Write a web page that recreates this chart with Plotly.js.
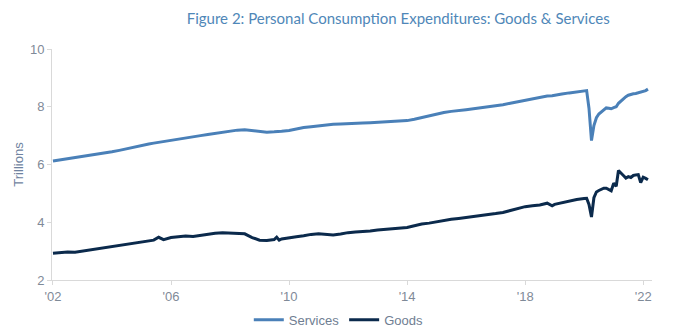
<!DOCTYPE html>
<html>
<head>
<meta charset="utf-8">
<script src="https://cdn.plot.ly/plotly-3.0.1.min.js"></script>
<style>html,body{margin:0;padding:0;background:#fff;}#chart{width:690px;height:336px;}</style>
</head>
<body>
<div id="chart"></div>
<script>
const dates = [
  "2002-01-01","2002-04-01","2002-07-01","2002-10-01",
  "2003-01-01","2003-04-01","2003-07-01","2003-10-01",
  "2004-01-01","2004-04-01","2004-07-01","2004-10-01",
  "2005-01-01","2005-04-01","2005-06-01","2005-08-01","2005-10-01",
  "2006-01-01","2006-04-01","2006-07-01","2006-10-01",
  "2007-01-01","2007-04-01","2007-07-01","2007-10-01",
  "2008-01-01","2008-04-01","2008-07-01","2008-10-01",
  "2009-01-01","2009-04-01","2009-07-01","2009-08-01","2009-09-01","2009-10-01",
  "2010-01-01","2010-04-01","2010-07-01","2010-10-01",
  "2011-01-01","2011-04-01","2011-07-01","2011-10-01",
  "2012-01-01","2012-04-01","2012-07-01","2012-10-01",
  "2013-01-01","2013-04-01","2013-07-01","2013-10-01",
  "2014-01-01","2014-04-01","2014-07-01","2014-10-01",
  "2015-01-01","2015-04-01","2015-07-01","2015-10-01",
  "2016-01-01","2016-04-01","2016-07-01","2016-10-01",
  "2017-01-01","2017-04-01","2017-07-01","2017-10-01",
  "2018-01-01","2018-04-01","2018-07-01","2018-10-01","2018-12-01",
  "2019-01-01","2019-04-01","2019-07-01","2019-10-01",
  "2020-01-01","2020-02-01","2020-03-01","2020-04-01","2020-05-01","2020-06-01",
  "2020-07-01","2020-08-01","2020-09-01","2020-10-01","2020-11-01","2020-12-01",
  "2021-01-01","2021-02-01","2021-03-01","2021-04-01","2021-05-01","2021-06-01",
  "2021-07-01","2021-08-01","2021-09-01","2021-10-01","2021-11-01","2021-12-01",
  "2022-01-01","2022-02-01","2022-03-01"
];

const services = [
  6.12,6.16,6.19,6.22,
  6.26,6.30,6.35,6.39,
  6.44,6.49,6.55,6.60,
  6.66,6.71,6.74,6.77,6.80,
  6.84,6.88,6.92,6.96,
  7.00,7.04,7.08,7.12,
  7.16,7.19,7.20,7.18,
  7.15,7.12,7.13,7.13,7.14,7.15,
  7.18,7.24,7.28,7.31,
  7.34,7.37,7.39,7.40,
  7.42,7.43,7.44,7.45,
  7.46,7.47,7.48,7.50,
  7.52,7.57,7.63,7.70,
  7.76,7.80,7.84,7.88,
  7.90,7.93,7.96,8.00,
  8.03,8.07,8.12,8.17,
  8.22,8.28,8.33,8.37,8.38,
  8.40,8.44,8.48,8.52,
  8.55,8.56,7.95,6.83,7.35,7.62,
  7.75,7.82,7.90,7.96,7.95,7.93,
  7.97,8.00,8.12,8.20,8.28,8.35,
  8.40,8.43,8.45,8.46,8.48,8.50,
  8.52,8.56,8.61
];

const goods = [
  2.93,2.95,2.97,2.96,
  3.00,3.03,3.08,3.12,
  3.17,3.21,3.24,3.29,
  3.32,3.36,3.38,3.48,3.40,
  3.47,3.50,3.52,3.51,
  3.55,3.60,3.62,3.64,
  3.63,3.62,3.60,3.47,
  3.38,3.37,3.40,3.48,3.38,3.42,
  3.47,3.50,3.53,3.58,
  3.60,3.59,3.56,3.59,
  3.64,3.66,3.67,3.70,
  3.73,3.75,3.78,3.80,
  3.82,3.88,3.94,3.97,
  4.02,4.06,4.10,4.13,
  4.16,4.20,4.23,4.26,
  4.30,4.34,4.40,4.48,
  4.54,4.57,4.60,4.66,4.57,
  4.62,4.68,4.74,4.79,
  4.82,4.83,4.62,4.18,4.85,5.05,
  5.10,5.15,5.18,5.18,5.12,5.09,
  5.35,5.25,5.79,5.72,5.62,5.53,
  5.58,5.55,5.62,5.64,5.65,5.37,
  5.56,5.52,5.47
];

const xTickVals = ["2002-01-01","2006-01-01","2010-01-01","2014-01-01","2018-01-01","2022-01-01"];
const xTickText = ["'02","'06","'10","'14","'18","'22"];
const yTickVals = [2,4,6,8,10];

const tickFontFamily = "'Liberation Sans', Arial, sans-serif";

const traces = [
  {x: dates, y: services, name: "Services", type: "scatter", mode: "lines",
   line: {color: "#4a80b8", width: 3}},
  {x: dates, y: goods, name: "Goods", type: "scatter", mode: "lines",
   line: {color: "#0b2a4c", width: 3}}
];

const layout = {
  width: 690, height: 336,
  margin: {l: 52, r: 38, t: 49, b: 56, autoexpand: false},
  paper_bgcolor: "#ffffff", plot_bgcolor: "#ffffff",
  title: {text: "Figure 2: Personal Consumption Expenditures: Goods & Services",
          font: {family: "Lato, 'Open Sans', sans-serif", size: 15, color: "#4f87b8"},
          x: 0.577, xanchor: "center", y: 0.945, yanchor: "middle", xref: "paper"},
  xaxis: {
    type: "date", range: ["2001-12-20", "2022-04-20"],
    tickvals: xTickVals, ticktext: xTickText,
    showgrid: false, zeroline: false, automargin: false,
    showline: true, linecolor: "#d9d9d9", linewidth: 1,
    ticks: "outside", ticklen: 4, tickcolor: "#d9d9d9",
    tickfont: {family: tickFontFamily, size: 13, color: "#7f8a98"}
  },
  yaxis: {
    range: [2, 10], tickvals: yTickVals,
    showgrid: false, zeroline: false, automargin: false,
    showline: true, linecolor: "#d9d9d9", linewidth: 1,
    ticks: "outside", ticklen: 4, tickcolor: "#d9d9d9",
    tickfont: {family: tickFontFamily, size: 13, color: "#7f8a98"},
    title: {text: "Trillions", standoff: 3,
            font: {family: tickFontFamily, size: 13, color: "#6f83a0"}}
  },
  legend: {orientation: "h", x: 0.478, xanchor: "center",
           yref: "container", y: 0.048, yanchor: "middle",
           font: {family: tickFontFamily, size: 13, color: "#6f7e92"},
           itemwidth: 30, tracegroupgap: 0},
  showlegend: true
};

Plotly.newPlot("chart", traces, layout, {staticPlot: true, displayModeBar: false});
</script>
</body>
</html>
